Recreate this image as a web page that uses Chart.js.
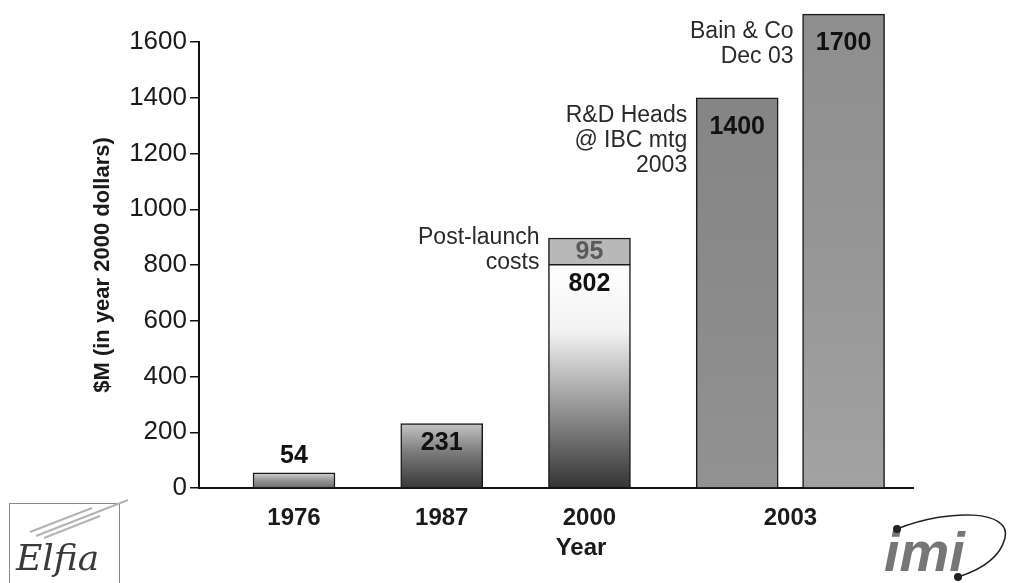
<!DOCTYPE html>
<html>
<head>
<meta charset="utf-8">
<title>R&amp;D cost per new drug</title>
<script src="https://cdn.jsdelivr.net/npm/chart.js@4.4.1/dist/chart.umd.min.js"></script>
<style>
  html, body { margin: 0; padding: 0; background: #fff; }
  canvas { display: block; }
</style>
</head>
<body>
<canvas id="cost-chart" width="1009" height="583"></canvas>
<script>
// Bars left to right; the two 2003 estimates stand side by side.
var barYears = ['1976', '1987', '2000', '2003', '2003'];
var barSlot = [0, 1, 2, 3, 3.72];            // spot on the x axis, in bar spacings
var devCost = [54, 231, 802, 1400, 1700];    // $M, year 2000 dollars
var postLaunch = [null, null, 95, null, null];

var yearLabels = ['1976', '1987', '2000', '2003'];
var yearLabelSlot = [0, 1, 2, 3.36];

var FONT = '"Liberation Sans", Arial, Helvetica, sans-serif';

// top / middle / bottom shade of each bar
var shades = [
  ['#d2d2d2', '#9a9a9a', '#6c6c6c'],
  ['#c4c4c4', '#7a7a7a', '#383838'],
  ['#ffffff', '#f2f2f2', '#333333'],
  ['#858585', '#8a8a8a', '#929292'],
  ['#8e8e8e', '#959595', '#a2a2a2']
];

function barFill(c) {
  var y = c.chart.scales.y;
  var i = c.dataIndex;
  if (!y || i == null) return shades[0][1];
  var s = shades[i];
  var top = y.getPixelForValue(devCost[i]);
  var base = y.getPixelForValue(0);
  if (!isFinite(top) || !isFinite(base) || top === base) return s[1];
  var g = c.chart.ctx.createLinearGradient(0, top, 0, base);
  g.addColorStop(0, s[0]);
  g.addColorStop(i === 2 ? 0.3 : 0.45, s[1]);
  g.addColorStop(1, s[2]);
  return g;
}

var barText = {
  id: 'barText',
  afterDatasetsDraw: function (chart, args, opts) {
    var ctx = chart.ctx;
    var main = chart.getDatasetMeta(0).data;
    var extra = chart.getDatasetMeta(1).data;
    ctx.save();
    ctx.textAlign = 'center';
    ctx.textBaseline = 'middle';
    ctx.font = 'bold 25px ' + FONT;
    main.forEach(function (bar, i) {
      var h = bar.base - bar.y;
      var y = h < 40 ? bar.y - 17 : bar.y + (devCost[i] >= 1000 ? 29 : 20);
      ctx.fillStyle = '#111';
      ctx.fillText(String(devCost[i]), bar.x, y);
    });
    extra.forEach(function (bar, i) {
      if (postLaunch[i] == null) return;
      ctx.fillStyle = '#5a5a5a';
      ctx.fillText(String(postLaunch[i]), bar.x, (bar.y + bar.base) / 2 + 1);
    });

    ctx.textAlign = 'right';
    ctx.font = '23px ' + FONT;
    ctx.fillStyle = '#2a2a2a';
    opts.notes.forEach(function (n) {
      var bar = main[n.bar];
      var top = postLaunch[n.bar] != null ? extra[n.bar].y : bar.y;
      var x = bar.x - bar.width / 2 - 9;
      n.lines.forEach(function (t, k) {
        ctx.fillText(t, x, top + n.dy + k * 25);
      });
    });

    // x axis title sits a little right of the axis centre in the original
    var xs = chart.scales.x;
    ctx.textAlign = 'center';
    ctx.font = 'bold 24px ' + FONT;
    ctx.fillStyle = '#1a1a1a';
    ctx.fillText(opts.xTitle, (xs.left + xs.right) / 2 + 25, xs.bottom - 35);
    ctx.restore();
  }
};

// the two logos in the bottom corners
var logos = {
  id: 'logos',
  afterDraw: function (chart) {
    var ctx = chart.ctx;
    ctx.save();
    // Elfia
    ctx.strokeStyle = '#8a8a8a';
    ctx.lineWidth = 1;
    ctx.strokeRect(9.5, 503.5, 110, 90);
    ctx.strokeStyle = '#b4b4b4';
    ctx.lineWidth = 2;
    [[30, 532, 92, 508], [36, 536, 128, 500], [44, 538, 100, 516]].forEach(function (l) {
      ctx.beginPath();
      ctx.moveTo(l[0], l[1]);
      ctx.lineTo(l[2], l[3]);
      ctx.stroke();
    });
    ctx.fillStyle = '#3a3a3a';
    ctx.font = 'italic 36px "DejaVu Serif", serif';
    ctx.textBaseline = 'alphabetic';
    ctx.fillText('Elfia', 16, 570);

    // imi
    ctx.fillStyle = '#767676';
    ctx.font = 'italic bold 56px ' + FONT;
    ctx.fillText('imi', 884, 571);
    ctx.strokeStyle = '#222';
    ctx.lineWidth = 1.5;
    ctx.beginPath();
    ctx.moveTo(897, 529);
    ctx.bezierCurveTo(950, 508, 1012, 510, 1005, 538);
    ctx.bezierCurveTo(1000, 558, 980, 570, 958, 577);
    ctx.stroke();
    ctx.fillStyle = '#222';
    [[897, 529], [958, 577]].forEach(function (p) {
      ctx.beginPath();
      ctx.arc(p[0], p[1], 4, 0, Math.PI * 2);
      ctx.fill();
    });
    ctx.restore();
  }
};

new Chart(document.getElementById('cost-chart'), {
  type: 'bar',
  data: {
    datasets: [{
      label: 'R&D cost',
      data: barSlot.map(function (x, i) { return { x: x, y: devCost[i] }; }),
      backgroundColor: barFill,
      borderColor: '#1a1a1a',
      borderWidth: 1.5,
      barThickness: 82,
      clip: false
    }, {
      label: 'Post-launch costs',
      data: barSlot.map(function (x, i) { return { x: x, y: postLaunch[i] }; }),
      backgroundColor: '#b8b8b8',
      borderColor: '#1a1a1a',
      borderWidth: 1.5,
      barThickness: 82,
      clip: false
    }]
  },
  options: {
    responsive: false,
    animation: false,
    layout: { padding: { left: 0, top: 42, right: 96, bottom: 0 } },
    plugins: {
      legend: { display: false },
      tooltip: { enabled: false },
      barText: {
        xTitle: 'Year',
        notes: [
          { bar: 2, dy: 0, lines: ['Post-launch', 'costs'] },
          { bar: 3, dy: 18, lines: ['R&D Heads', '@ IBC mtg', '2003'] },
          { bar: 4, dy: 18, lines: ['Bain & Co', 'Dec 03'] }
        ]
      }
    },
    scales: {
      x: {
        type: 'linear',
        stacked: true,
        offset: false,
        min: -0.643,
        max: 4.19,
        grid: { display: false, drawTicks: false, offset: false },
        border: { display: true, color: '#111', width: 2 },
        afterBuildTicks: function (scale) {
          scale.ticks = yearLabelSlot.map(function (v) { return { value: v }; });
        },
        afterFit: function (scale) { scale.height = 95; },
        ticks: {
          autoSkip: false,
          maxRotation: 0,
          padding: 16,
          color: '#1a1a1a',
          font: { family: FONT, size: 24, weight: 'bold' },
          callback: function (v, i) { return yearLabels[i]; }
        }
      },
      y: {
        stacked: true,
        min: 0,
        max: 1600,
        grid: { display: true, drawOnChartArea: false, drawTicks: true, tickLength: 9, color: '#111', lineWidth: 1.5 },
        border: { display: true, color: '#111', width: 2 },
        afterFit: function (scale) { scale.width = 199; },
        ticks: {
          stepSize: 200,
          padding: 3,
          color: '#1a1a1a',
          font: { family: FONT, size: 26 },
          callback: function (v) { return String(v); }
        },
        title: {
          display: true,
          text: '$M (in year 2000 dollars)',
          color: '#1a1a1a',
          font: { family: FONT, size: 22, weight: 'bold' },
          padding: { top: 90, bottom: 0 }
        }
      }
    }
  },
  plugins: [barText, logos]
});
</script>
</body>
</html>
